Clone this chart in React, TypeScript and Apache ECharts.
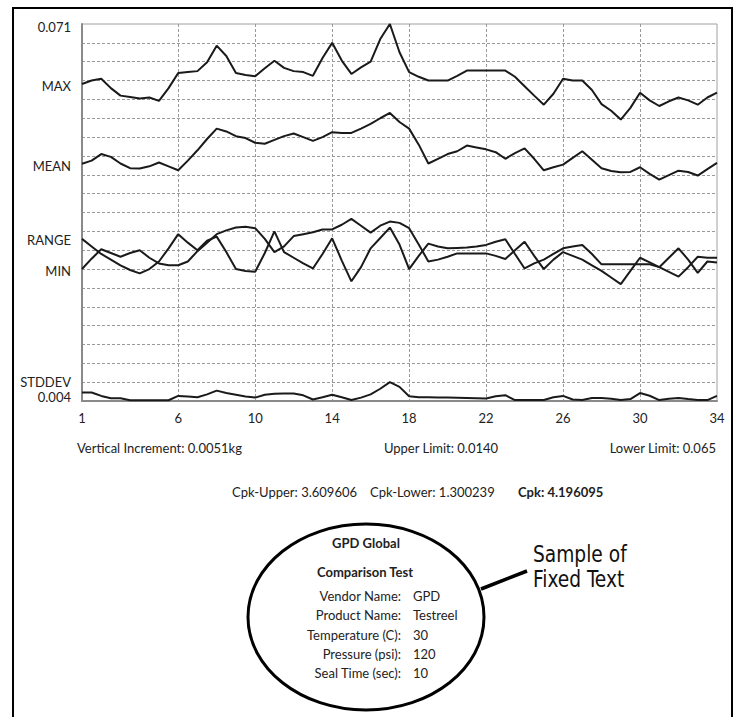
import React, { useEffect, useRef } from 'react';
import * as echarts from 'echarts';

// x positions: half steps from 1 to 34
const xStart = 1;
const xEnd = 34;
const xSteps: number[] = [];
for (let v = xStart; v <= xEnd + 1e-9; v += 0.5) xSteps.push(v);

const xTickLabels = [1, 6, 10, 14, 18, 22, 26, 30, 34];
const xGridLines = [6, 10, 14, 18, 22, 26, 30];

// series values (in chart grid units, 0 = bottom, 20 = top)
const maxValues = [16.82, 17.0, 17.1, 16.6, 16.2, 16.13, 16.05, 16.1, 15.92, 16.6,
  17.4, 17.45, 17.5, 17.97, 18.85, 18.3, 17.4, 17.3, 17.23, 17.65,
  18.05, 17.67, 17.5, 17.45, 17.25, 18.2, 19.0, 18.06, 17.35, 17.7,
  18.0, 19.2, 20.0, 18.5, 17.45, 17.2, 17.0, 17.0, 17.0, 17.25,
  17.53, 17.53, 17.53, 17.53, 17.53, 17.2, 16.7, 16.2, 15.72, 16.3,
  17.1, 17.0, 17.0, 16.5, 15.75, 15.4, 14.93, 15.55, 16.35, 15.95,
  15.65, 15.9, 16.1, 15.95, 15.72, 16.1, 16.36];

const meanValues = [12.59, 12.75, 13.1, 12.95, 12.6, 12.35, 12.33, 12.45, 12.65, 12.45,
  12.24, 12.75, 13.3, 13.9, 14.45, 14.3, 14.05, 13.95, 13.7, 13.65,
  13.85, 14.05, 14.19, 14.0, 13.8, 14.0, 14.26, 14.22, 14.22, 14.45,
  14.7, 15.0, 15.28, 14.8, 14.45, 13.6, 12.6, 12.85, 13.1, 13.25,
  13.55, 13.45, 13.35, 13.2, 12.85, 13.15, 13.4, 12.85, 12.24, 12.4,
  12.54, 12.9, 13.25, 12.8, 12.35, 12.2, 12.13, 12.15, 12.4, 12.05,
  11.74, 11.98, 12.22, 12.15, 11.96, 12.3, 12.63];

const rangeValues = [8.6, 8.2, 7.8, 7.5, 7.2, 6.95, 6.77, 7.0, 7.4, 8.1,
  8.85, 8.4, 8.0, 8.5, 8.72, 7.9, 7.0, 6.9, 6.86, 7.85,
  9.0, 7.9, 7.6, 7.3, 7.03, 7.8, 8.63, 7.45, 6.35, 7.1,
  8.1, 8.65, 9.2, 8.3, 7.0, 7.7, 8.35, 8.2, 8.1, 8.12,
  8.14, 8.2, 8.28, 8.45, 8.58, 7.8, 7.03, 7.3, 7.5, 7.8,
  8.1, 8.2, 8.28, 7.8, 7.25, 7.25, 7.25, 7.25, 7.25, 7.25,
  7.1, 6.85, 6.6, 7.1, 7.65, 7.6, 7.6];

const minValues = [7.0, 7.55, 8.05, 7.85, 7.65, 7.85, 8.0, 7.6, 7.3, 7.2,
  7.2, 7.4, 7.95, 8.4, 8.85, 9.05, 9.2, 9.25, 9.17, 8.6,
  7.9, 8.2, 8.75, 8.85, 8.95, 9.1, 9.1, 9.35, 9.66, 9.3,
  8.93, 9.3, 9.52, 9.45, 9.17, 8.3, 7.4, 7.5, 7.65, 7.83,
  7.83, 7.83, 7.83, 7.7, 7.53, 8.0, 8.45, 7.7, 7.0, 7.5,
  7.9, 7.7, 7.5, 7.2, 6.9, 6.55, 6.2, 6.9, 7.6, 7.35,
  7.1, 7.6, 8.1, 7.5, 6.8, 7.4, 7.35];

const stddevValues = [0.45, 0.45, 0.27, 0.15, 0.15, 0.04, 0.04, 0.04, 0.04, 0.04,
  0.27, 0.24, 0.2, 0.35, 0.55, 0.42, 0.33, 0.24, 0.18, 0.33,
  0.38, 0.4, 0.4, 0.3, 0.08, 0.2, 0.33, 0.2, 0.05, 0.18,
  0.35, 0.65, 1.0, 0.75, 0.25, 0.2, 0.2, 0.19, 0.18, 0.17,
  0.16, 0.15, 0.13, 0.25, 0.31, 0.05, 0.05, 0.05, 0.05, 0.2,
  0.27, 0.08, 0.05, 0.16, 0.16, 0.12, 0.05, 0.1, 0.42, 0.28,
  0.05, 0.12, 0.16, 0.1, 0.05, 0.05, 0.27];

// y-axis labels and the axis level at which each sits
const yLabelNames = ['0.071', 'MAX', 'MEAN', 'RANGE', 'MIN', 'STDDEV', '0.004'];
const yLabelLevels = [19.85, 16.7, 12.45, 8.55, 6.9, 1.0, 0.2];

// footer texts
const statsRow1 = ['Vertical Increment: 0.0051kg', 'Upper Limit: 0.0140', 'Lower Limit: 0.065'];
const statsRow2 = ['Cpk-Upper: 3.609606', 'Cpk-Lower: 1.300239', 'Cpk: 4.196095'];
const boxTitles = ['GPD Global', 'Comparison Test'];
const boxKeys = ['Vendor Name:', 'Product Name:', 'Temperature (C):', 'Pressure (psi):', 'Seal Time (sec):'];
const boxVals = ['GPD', 'Testreel', '30', '120', '10'];
const calloutLines = ['Sample of', 'Fixed Text'];

const FF = "Lato, 'Open Sans', sans-serif";
const LINE = '#1a1a1a';
const GRIDC = '#9a9a9a';

export default function App() {
  const ref = useRef<HTMLDivElement>(null);
  useEffect(() => {
    if (!ref.current) return;
    const chart = echarts.init(ref.current, undefined, { renderer: 'svg' });
    const labelMap = new Map<number, string>();
    yLabelLevels.forEach((lv, i) => labelMap.set(Math.round(lv * 100) / 100, yLabelNames[i]));

    const mk = (name: string, data: number[]) => ({
      name,
      type: 'line',
      data,
      showSymbol: false,
      symbol: 'none',
      clip: false,
      lineStyle: { color: LINE, width: 2 },
      yAxisIndex: 0,
    });

    const txt = (text: string, x: number, y: number, align: string, bold = false, size = 13) => ({
      type: 'text',
      x,
      y,
      silent: true,
      style: {
        text,
        fill: '#222',
        fontSize: size,
        fontFamily: FF,
        fontWeight: bold ? 'bold' : 'normal',
        align,
        verticalAlign: 'middle',
      },
    });

    const graphics: any[] = [
      {
        type: 'rect',
        shape: { x: 13, y: 8, width: 719, height: 760 },
        style: { fill: 'none', stroke: '#000', lineWidth: 2 },
        silent: true,
      },
      txt(statsRow1[0], 77, 448, 'left'),
      txt(statsRow1[1], 441, 448, 'center'),
      txt(statsRow1[2], 716, 448, 'right'),
      txt(statsRow2[0], 232, 492, 'left'),
      txt(statsRow2[1], 370, 492, 'left'),
      txt(statsRow2[2], 518, 492, 'left', true),
      {
        type: 'ellipse',
        shape: { cx: 366, cy: 617, rx: 118, ry: 93 },
        style: { fill: 'none', stroke: '#000', lineWidth: 3 },
        silent: true,
      },
      {
        type: 'line',
        shape: { x1: 481, y1: 589, x2: 527, y2: 571 },
        style: { stroke: '#000', lineWidth: 3.5 },
        silent: true,
      },
      txt(boxTitles[0], 366, 543, 'center', true),
      txt(boxTitles[1], 365, 572, 'center', true),
    ];
    const rowY = [596, 615, 634.5, 654, 673];
    boxKeys.forEach((k, i) => {
      graphics.push(txt(k, 401, rowY[i], 'right'));
      graphics.push(txt(boxVals[i], 413, rowY[i], 'left'));
    });
    calloutLines.forEach((t, i) => {
      graphics.push({
        type: 'text',
        x: 533,
        y: 554 + i * 25,
        scaleX: 0.9,
        silent: true,
        style: {
          text: t,
          fill: '#111',
          fontSize: 23,
          fontFamily: "'Liberation Sans Narrow', 'DejaVu Sans Condensed', 'Roboto Condensed', Roboto, sans-serif",
          align: 'left',
          verticalAlign: 'middle',
        },
      });
    });

    chart.setOption({
      animation: false,
      backgroundColor: '#fff',
      grid: {
        left: 82,
        top: 24,
        right: 20,
        bottom: 316,
        show: true,
        borderColor: '#a0a0a0',
        borderWidth: 1,
        backgroundColor: '#fff',
      },
      xAxis: {
        type: 'category',
        data: xSteps.map((v) => String(v)),
        boundaryGap: false,
        axisLine: { show: true, lineStyle: { color: '#8a8a8a', width: 2 } },
        axisTick: { show: false },
        axisLabel: {
          interval: (_i: number, v: string) => xTickLabels.includes(Number(v)),
          margin: 10,
          color: '#222',
          fontSize: 13,
          fontFamily: FF,
        },
        splitLine: {
          show: true,
          interval: (_i: number, v: string) => xGridLines.includes(Number(v)),
          lineStyle: { type: [3, 2], color: GRIDC, width: 1 },
        },
      },
      yAxis: [
        {
          type: 'value',
          min: 0,
          max: 20,
          interval: 1,
          axisLine: { show: true, lineStyle: { color: '#8a8a8a', width: 2 } },
          axisTick: { show: false },
          axisLabel: { show: false },
          splitLine: {
            show: true,
            showMinLine: false,
            showMaxLine: false,
            lineStyle: { type: [3, 2], color: GRIDC, width: 1 },
          },
        },
        {
          type: 'value',
          position: 'left',
          min: 0,
          max: 20,
          interval: 0.05,
          axisLine: { show: false },
          axisTick: { show: false },
          splitLine: { show: false },
          axisLabel: {
            margin: 11,
            color: '#222',
            fontSize: 13,
            fontFamily: FF,
            formatter: (v: number) => labelMap.get(Math.round(v * 100) / 100) ?? '',
          },
        },
      ],
      series: [
        mk('MAX', maxValues),
        mk('MEAN', meanValues),
        mk('RANGE', rangeValues),
        mk('MIN', minValues),
        mk('STDDEV', stddevValues),
      ],
      graphic: graphics,
    });
    return () => chart.dispose();
  }, []);
  return (
    <div
      ref={ref}
      style={{ position: 'fixed', left: 0, top: 0, width: 737, height: 717, background: '#fff' }}
    />
  );
}
